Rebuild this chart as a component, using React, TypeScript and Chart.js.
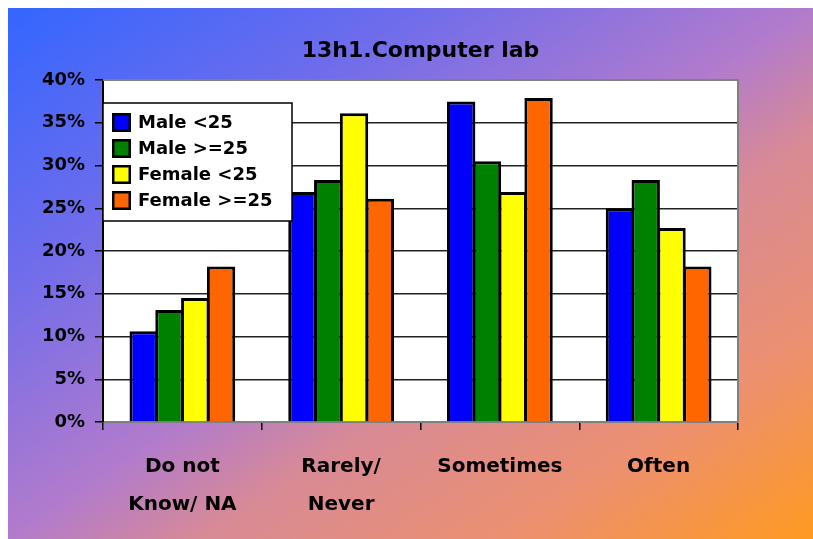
import React, { useEffect, useRef } from 'react';
import { Chart, registerables } from 'chart.js';

Chart.register(...registerables);

const TITLE = '13h1.Computer lab';
const categories: string[][] = [['Do not', 'Know/ NA'], ['Rarely/', 'Never'], ['Sometimes'], ['Often']];
const seriesNames = ['Male <25', 'Male >=25', 'Female <25', 'Female >=25'];
const seriesColors = ['#0000ff', '#008000', '#ffff00', '#ff6600'];
const maleUnder25 = [10.6, 26.9, 37.5, 25.0];
const maleOver25 = [13.1, 28.3, 30.5, 28.3];
const femaleUnder25 = [14.5, 36.1, 26.9, 22.7];
const femaleOver25 = [18.2, 26.1, 37.9, 18.2];
const seriesValues = [maleUnder25, maleOver25, femaleUnder25, femaleOver25];
const yTickLabels = ['0%', '5%', '10%', '15%', '20%', '25%', '30%', '35%', '40%'];

const FONT = '"DejaVu Sans", sans-serif';

const decorPlugin = {
  id: 'decor',
  beforeDraw(chart: any) {
    const { ctx, chartArea: a } = chart;
    ctx.save();
    ctx.fillStyle = '#ffffff';
    ctx.fillRect(a.left, a.top, a.right - a.left, a.bottom - a.top);
    ctx.restore();
  },
  afterDraw(chart: any) {
    const { ctx, chartArea: a } = chart;
    ctx.save();
    // gray frame top & right
    ctx.strokeStyle = '#808080';
    ctx.lineWidth = 2;
    ctx.beginPath();
    ctx.moveTo(a.left, a.top);
    ctx.lineTo(a.right, a.top);
    ctx.lineTo(a.right, a.bottom);
    ctx.stroke();

    // title
    ctx.fillStyle = '#000';
    ctx.font = `bold 22px ${FONT}`;
    ctx.textAlign = 'center';
    ctx.textBaseline = 'middle';
    ctx.fillText(TITLE, (a.left + a.right) / 2, 43);

    // legend
    const bx = a.left;
    const by = a.top + 23;
    const bw = 189;
    const bh = 118;
    ctx.fillStyle = '#ffffff';
    ctx.fillRect(bx, by, bw, bh);
    ctx.strokeStyle = '#000';
    ctx.lineWidth = 1.5;
    ctx.strokeRect(bx, by, bw, bh);
    ctx.font = `bold 18px ${FONT}`;
    ctx.textAlign = 'left';
    ctx.textBaseline = 'middle';
    chart.data.datasets.forEach((ds: any, i: number) => {
      const sx = bx + 9;
      const sy = by + 10 + i * 26;
      ctx.fillStyle = ds.backgroundColor;
      ctx.fillRect(sx, sy, 19, 19);
      ctx.strokeStyle = '#000';
      ctx.lineWidth = 2.5;
      ctx.strokeRect(sx + 1.25, sy + 1.25, 16.5, 16.5);
      ctx.fillStyle = '#000';
      ctx.fillText(ds.label, bx + 35, sy + 10);
    });
    ctx.restore();
  },
};

export default function App() {
  const ref = useRef<HTMLCanvasElement | null>(null);
  useEffect(() => {
    if (!ref.current) return;
    const chart = new Chart(ref.current, {
      type: 'bar',
      data: {
        labels: categories,
        datasets: seriesNames.map((name, i) => ({
          label: name,
          data: seriesValues[i],
          backgroundColor: seriesColors[i],
          borderColor: '#000',
          borderWidth: 3,
          inflateAmount: 0,
          categoryPercentage: 0.65,
          barPercentage: 1.1,
        })),
      },
      options: {
        responsive: false,
        animation: false,
        layout: { padding: { top: 72, right: 75, bottom: 0, left: 0 } },
        plugins: {
          legend: { display: false },
          title: { display: false },
          tooltip: { enabled: false },
        },
        scales: {
          x: {
            grid: {
              offset: true,
              drawOnChartArea: false,
              drawTicks: true,
              tickLength: 8,
              color: '#000',
              lineWidth: 1.5,
            },
            border: { display: true, color: '#808080', width: 2 },
            ticks: {
              color: '#000',
              padding: 18,
              maxRotation: 0,
              autoSkip: false,
              font: { family: FONT, weight: 'bold', size: 20, lineHeight: 1.9 },
            },
            afterFit(scale: any) {
              scale.height = 117;
            },
          },
          y: {
            min: 0,
            max: 40,
            grid: {
              color: '#222',
              lineWidth: 1.5,
              drawTicks: true,
              tickLength: 8,
              tickColor: '#000',
            },
            border: { display: true, color: '#000', width: 2 },
            ticks: {
              stepSize: 5,
              color: '#000',
              padding: 10,
              font: { family: FONT, weight: 'bold', size: 18 },
              callback: (v: any) => yTickLabels[Math.round(Number(v) / 5)],
            },
            afterFit(scale: any) {
              scale.width = 95;
            },
          },
        },
      },
      plugins: [decorPlugin],
    });
    return () => chart.destroy();
  }, []);

  return (
    <div
      style={{
        position: 'fixed',
        left: 8,
        top: 8,
        width: 805,
        height: 531,
        background:
          'linear-gradient(to bottom right, #3366ff 0%, #6e6cec 25%, #b27bcc 50%, #d88a95 62%, #ec9070 81%, #ff9a20 100%)',
      }}
    >
      <canvas ref={ref} width={805} height={531} style={{ display: 'block' }} />
    </div>
  );
}
